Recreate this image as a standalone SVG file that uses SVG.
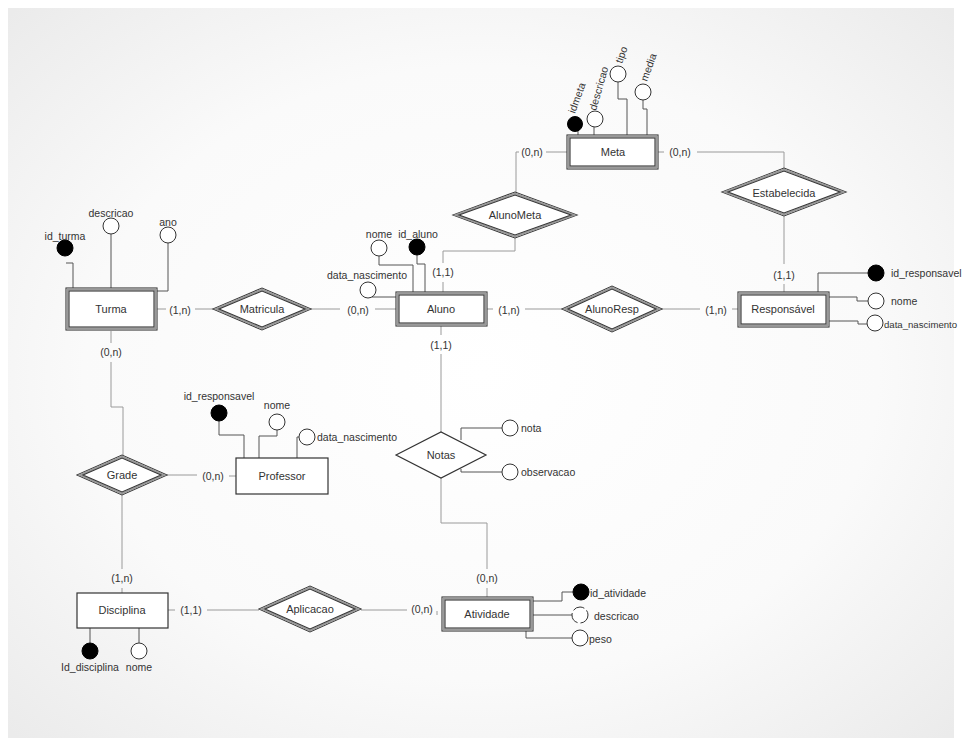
<svg xmlns="http://www.w3.org/2000/svg" width="962" height="746" viewBox="0 0 962 746">
<defs>
<radialGradient id="bg" cx="50%" cy="50%" r="70%">
<stop offset="0" stop-color="#ffffff"/>
<stop offset="0.6" stop-color="#fafafa"/>
<stop offset="1" stop-color="#ebebeb"/>
</radialGradient>
<style>
.ln{fill:none;stroke:#9a9a9a;stroke-width:1}
.al{fill:none;stroke:#555;stroke-width:1}
.o{fill:#fff;stroke:#333;stroke-width:1.1}
.m{fill:none;stroke:#9a9a9a;stroke-width:2}
.i{fill:#fff;stroke:#333;stroke-width:1.1}
.s{fill:#fff;stroke:#333;stroke-width:1.2}
.k{fill:#000;stroke:#000;stroke-width:1}
.a{fill:#fff;stroke:#333;stroke-width:1}
text{font-family:"Liberation Sans",Arial,sans-serif;font-size:10.5px;fill:#333}
.c{text-anchor:middle;dominant-baseline:central}
.l{dominant-baseline:central}
.n{font-size:11px}
</style>
</defs>
<rect width="962" height="746" fill="#fff"/>
<rect x="8" y="8" width="946" height="730" fill="url(#bg)"/>

<g id="connectors">
<path class="ln" d="M157,309 H166 M195,309 H213"/>
<path class="ln" d="M311,309 H340 M375,309 H396"/>
<path class="ln" d="M487,309 H493 M525,309 H562"/>
<path class="ln" d="M662,309 H700 M732,309 H738"/>
<path class="ln" d="M516,192 V152 H519 M546,152 H567"/>
<path class="ln" d="M658,152 H664 M697,152 H784 V169"/>
<path class="ln" d="M784,216 V264 M784,284 V292"/>
<path class="ln" d="M515,238 V251 H443 V263 M443,282 V292"/>
<path class="ln" d="M441,326 V335 M441,354 V432"/>
<path class="ln" d="M441,478 V523 H487 V569 M487,588 V598"/>
<path class="ln" d="M111,331 V343 M111,362 V407 H123 V455"/>
<path class="ln" d="M122,495 V569 M122,588 V593"/>
<path class="ln" d="M167,475 H197 M229,476 H236"/>
<path class="ln" d="M168,610 H175 M207,610 H259"/>
<path class="ln" d="M361,610 H407 M437,611 V615"/>
<text class="c" x="180" y="310">(1,n)</text>
<text class="c" x="358" y="310">(0,n)</text>
<text class="c" x="509" y="310">(1,n)</text>
<text class="c" x="716" y="310">(1,n)</text>
<text class="c" x="532" y="152">(0,n)</text>
<text class="c" x="680" y="152">(0,n)</text>
<text class="c" x="784" y="275">(1,1)</text>
<text class="c" x="443" y="272">(1,1)</text>
<text class="c" x="441" y="345">(1,1)</text>
<text class="c" x="487" y="578">(0,n)</text>
<text class="c" x="111" y="352">(0,n)</text>
<text class="c" x="122" y="578">(1,n)</text>
<text class="c" x="213" y="476">(0,n)</text>
<text class="c" x="191" y="610">(1,1)</text>
<text class="c" x="422" y="609">(0,n)</text>
</g>

<g id="meta">
<path class="al" d="M578,131 V135 M594,127 V135 M618,82 V99 H627 V135 M643,100 V109 H647 V135"/>
<circle class="k" cx="575" cy="124" r="7.5"/>
<circle class="a" cx="595" cy="119" r="8"/>
<circle class="a" cx="618" cy="74" r="8"/>
<circle class="a" cx="643" cy="92" r="8"/>
<text transform="translate(575,114) rotate(-70)">idmeta</text>
<text transform="translate(596,111) rotate(-74)">descricao</text>
<text transform="translate(622,64) rotate(-70)">tipo</text>
<text transform="translate(647,82) rotate(-70)">media</text>
<rect class="o" x="567" y="135" width="91" height="34"/>
<rect class="m" x="568.5" y="136.5" width="88" height="31"/>
<rect class="i" x="570" y="138" width="85" height="28"/>
<text class="c n" x="613" y="152">Meta</text>
</g>

<g id="alunometa">
<polygon class="o" points="453,215 515,192 577,215 515,238"/>
<polygon class="m" points="456,215 515,193.5 574,215 515,236.5"/>
<polygon class="i" points="459,215 515,195 571,215 515,235"/>
<text class="c n" x="515" y="215">AlunoMeta</text>
</g>

<g id="estabelecida">
<polygon class="o" points="722,192 784,168 846,192 784,216"/>
<polygon class="m" points="725,192 784,169.5 843,192 784,214.5"/>
<polygon class="i" points="728,192 784,171 840,192 784,213"/>
<text class="c n" x="784" y="193">Estabelecida</text>
</g>

<g id="turma">
<path class="al" d="M111,234 V289 M168,243 V291 H157 M66,263 H73 V289"/>
<circle class="k" cx="65" cy="248" r="8"/>
<circle class="a" cx="111" cy="226" r="8"/>
<circle class="a" cx="168" cy="235" r="8"/>
<text class="c" x="65" y="236">id_turma</text>
<text class="c" x="111" y="213">descricao</text>
<text class="c" x="168" y="222">ano</text>
<rect class="o" x="66" y="288" width="91" height="42"/>
<rect class="m" x="67.5" y="289.5" width="88" height="39"/>
<rect class="i" x="69" y="291" width="85" height="36"/>
<text class="c n" x="111" y="309">Turma</text>
</g>

<g id="matricula">
<polygon class="o" points="213,309 262,288 311,309 262,330"/>
<polygon class="m" points="216,309 262,289.5 308,309 262,328.5"/>
<polygon class="i" points="219,309 262,291 305,309 262,327"/>
<text class="c n" x="262" y="309">Matricula</text>
</g>

<g id="aluno">
<path class="al" d="M379,256 V265 H413 V292 M417,255 V264 H425 V292 M372,297 H396"/>
<circle class="a" cx="379" cy="248" r="8"/>
<circle class="k" cx="417" cy="247" r="8"/>
<circle class="a" cx="368" cy="290" r="8"/>
<text class="c" x="379" y="234">nome</text>
<text class="c" x="418" y="234">id_aluno</text>
<text class="c" x="367" y="275">data_nascimento</text>
<rect class="o" x="396" y="292" width="91" height="34"/>
<rect class="m" x="397.5" y="293.5" width="88" height="31"/>
<rect class="i" x="399" y="295" width="85" height="28"/>
<text class="c n" x="441" y="309">Aluno</text>
</g>

<g id="alunoresp">
<polygon class="o" points="562,309 612,286 662,309 612,332"/>
<polygon class="m" points="565,309 612,287.5 659,309 612,330.5"/>
<polygon class="i" points="568,309 612,289 656,309 612,329"/>
<text class="c n" x="612" y="309">AlunoResp</text>
</g>

<g id="responsavel">
<path class="al" d="M818,292 V273 H868 M829,297 H857 V301 H868 M829,321 H858 V324 H867"/>
<circle class="k" cx="876" cy="273" r="8"/>
<circle class="a" cx="876" cy="301" r="8"/>
<circle class="a" cx="875" cy="323" r="8"/>
<text class="l" x="891" y="273">id_responsavel</text>
<text class="l" x="891" y="301">nome</text>
<text class="l" x="884" y="324" style="font-size:9.6px">data_nascimento</text>
<rect class="o" x="738" y="292" width="91" height="35"/>
<rect class="m" x="739.5" y="293.5" width="88" height="32"/>
<rect class="i" x="741" y="295" width="85" height="29"/>
<text class="c n" x="783" y="309">Responsável</text>
</g>

<g id="grade">
<polygon class="o" points="77,475 122,455 167,475 122,495"/>
<polygon class="m" points="80,475 122,456.5 164,475 122,493.5"/>
<polygon class="i" points="83,475 122,458 161,475 122,492"/>
<text class="c n" x="122" y="475">Grade</text>
</g>

<g id="professor">
<path class="al" d="M219,421 V435 H244 V458 M277,430 V436 H259 V458 M297,458 V437 H299"/>
<circle class="k" cx="219" cy="413" r="8"/>
<circle class="a" cx="277" cy="422" r="8"/>
<circle class="a" cx="307" cy="437" r="8"/>
<text class="c" x="219" y="396">id_responsavel</text>
<text class="c" x="277" y="405">nome</text>
<text class="l" x="317" y="437">data_nascimento</text>
<rect class="s" x="236" y="458" width="92" height="36"/>
<text class="c n" x="282" y="476">Professor</text>
</g>

<g id="notas">
<path class="al" d="M461,440 V428 H502 M461,469 V472 H502"/>
<circle class="a" cx="510" cy="428" r="8"/>
<circle class="a" cx="510" cy="472" r="8"/>
<text class="l" x="521" y="428">nota</text>
<text class="l" x="521" y="472">observacao</text>
<polygon class="s" points="396,455 441,432 486,455 441,478"/>
<text class="c n" x="441" y="455">Notas</text>
</g>

<g id="disciplina">
<path class="al" d="M90,628 V643 M139,628 V643"/>
<circle class="k" cx="90" cy="651" r="8"/>
<circle class="a" cx="139" cy="651" r="8"/>
<text class="c" x="90" y="667">Id_disciplina</text>
<text class="c" x="139" y="667">nome</text>
<rect class="s" x="77" y="593" width="91" height="35"/>
<text class="c n" x="122" y="610">Disciplina</text>
</g>

<g id="aplicacao">
<polygon class="o" points="259,609 310,586 361,609 310,632"/>
<polygon class="m" points="262,609 310,587.5 358,609 310,630.5"/>
<polygon class="i" points="265,609 310,589 355,609 310,629"/>
<text class="c n" x="310" y="609">Aplicacao</text>
</g>

<g id="atividade">
<path class="al" d="M533,601 H562 V592 H573 M533,615 H572 M526,631 V638 H572"/>
<circle class="k" cx="581" cy="592" r="8"/>
<circle class="a" cx="580" cy="615" r="8" stroke-dasharray="12,3"/>
<circle class="a" cx="580" cy="638" r="8"/>
<text class="l" x="590" y="593">id_atividade</text>
<text class="l" x="594" y="616">descricao</text>
<text class="l" x="589" y="639">peso</text>
<rect class="o" x="442" y="597" width="91" height="34"/>
<rect class="m" x="443.5" y="598.5" width="88" height="31"/>
<rect class="i" x="445" y="600" width="85" height="28"/>
<text class="c n" x="487" y="614">Atividade</text>
</g>
</svg>
